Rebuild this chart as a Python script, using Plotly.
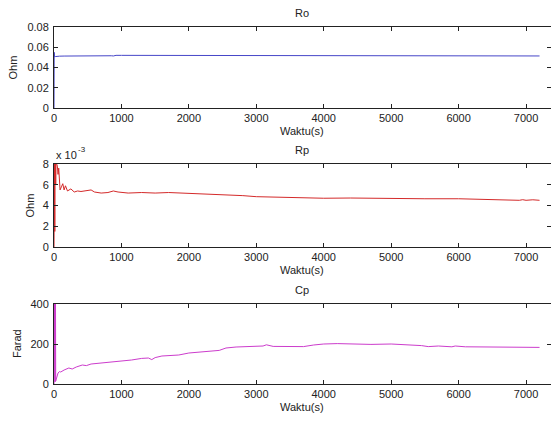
import plotly.graph_objects as go

# ---------------- data ----------------
ro_t = [0, 3, 6, 10, 20, 40, 80, 150, 300, 500, 600, 800, 850, 880, 920, 1000, 1500,
        1850, 1880, 1920, 1960, 2000, 2500, 3000, 4000, 5000, 6000, 7000, 7200]
ro_v = [0.0, 0.055, 0.050, 0.0505, 0.0508, 0.051, 0.0512, 0.0513, 0.0515, 0.0517, 0.052,
        0.052, 0.0516, 0.0514, 0.052, 0.052, 0.052, 0.052, 0.0515, 0.052, 0.0514, 0.0515,
        0.0514, 0.0514, 0.0514, 0.0514, 0.0514, 0.0514, 0.0514]

rp_t = [0, 2, 4, 6, 8, 10, 12, 14, 16, 18, 20, 22, 25, 30, 35, 40, 50, 60, 70, 80, 90,
        110, 130, 150, 170, 200, 250, 300, 350, 400, 500, 550, 600, 700, 800, 880, 950,
        1100, 1300, 1500, 1700, 1900, 2300, 2600, 2800, 3000, 3300, 3700, 4000, 4400,
        4800, 4900, 5100, 5500, 6000, 6400, 6500, 6900, 6950, 7000, 7100, 7200]
rp_v = [0.0, 9.0, 0.3, 9.0, 0.8, 9.0, 1.5, 9.0, 2.0, 8.5, 3.0, 8.8, 6.0, 8.5, 7.2, 8.0,
        7.8, 7.0, 7.6, 6.8, 5.5, 5.8, 6.1, 5.5, 5.9, 5.4, 5.6, 5.3, 5.4, 5.35, 5.45, 5.5,
        5.3, 5.2, 5.25, 5.4, 5.3, 5.2, 5.25, 5.2, 5.25, 5.2, 5.1, 5.0, 4.95, 4.85, 4.8,
        4.75, 4.7, 4.72, 4.68, 4.74, 4.7, 4.65, 4.65, 4.6, 4.52, 4.5, 4.56, 4.5, 4.55, 4.5]

cp_t = [0, 2, 4, 6, 8, 10, 12, 14, 16, 18, 20, 22, 25, 30, 45, 60, 80, 100, 150, 220,
        270, 330, 420, 480, 550, 700, 850, 1000, 1150, 1300, 1400, 1450, 1500, 1600,
        1850, 2000, 2200, 2450, 2550, 2700, 3100, 3150, 3250, 3700, 3850, 4000, 4200,
        4500, 4700, 5000, 5200, 5450, 5550, 5700, 5900, 5950, 6100, 6700, 6800, 7200]
cp_v = [0, 500, 10, 500, 20, 500, 30, 500, 10, 500, 20, 450, 15, 20, 40, 55, 62, 60, 70,
        80, 75, 85, 95, 92, 100, 105, 110, 112, 120, 128, 130, 122, 132, 140, 145, 155,
        160, 168, 180, 185, 190, 196, 188, 187, 195, 200, 202, 200, 198, 200, 198, 192,
        187, 190, 186, 190, 186, 186, 183, 183]

titles = ["Ro", "Rp", "Cp"]
ylabels = ["Ohm", "Ohm", "Farad"]
xticks = [0, 1000, 2000, 3000, 4000, 5000, 6000, 7000]

# ---------------- figure ----------------
W, H = 551, 421
L = 54
FONT = "Liberation Sans, Arial, sans-serif"
TXT = "#222"


def ydom(top_px, bot_px):
    return [1 - bot_px / H, 1 - top_px / H]


doms = [ydom(27, 108), ydom(164, 247), ydom(304, 384)]
colors = ["#4646c8", "#d42a2a", "#cc3ccc"]
series = [(ro_t, ro_v), (rp_t, rp_v), (cp_t, cp_v)]
yranges = [[0, 0.08], [0, 8], [0, 400]]
yticks = [[0, 0.02, 0.04, 0.06, 0.08], [0, 2, 4, 6, 8], [0, 200, 400]]
ytext = [["0", "0.02", "0.04", "0.06", "0.08"], ["0", "2", "4", "6", "8"], ["0", "200", "400"]]
ylabel_x = [13, 30, 17]


def px2x(px):
    return (px - L) / (W - L)


def px2y(py):
    return 1 - py / H


fig = go.Figure()
layout = dict(
    width=W, height=H,
    margin=dict(l=L, r=0, t=0, b=0),
    paper_bgcolor="white", plot_bgcolor="white",
    showlegend=False,
    font=dict(family=FONT, size=11, color=TXT),
)
annotations = []
for i, ((t, v), col) in enumerate(zip(series, colors)):
    n = "" if i == 0 else str(i + 1)
    fig.add_trace(go.Scatter(x=t, y=v, mode="lines", line=dict(color=col, width=1),
                             xaxis="x" + n, yaxis="y" + n))
    axcommon = dict(showgrid=False, zeroline=False, showline=True, linecolor=TXT,
                    linewidth=1, mirror="ticks", ticks="inside", ticklen=4,
                    tickcolor=TXT, tickfont=dict(family=FONT, size=11, color=TXT),
                    automargin=False)
    layout["xaxis" + n] = dict(axcommon, domain=[0, 1], range=[0, 7370],
                               tickvals=xticks, ticktext=[str(x) for x in xticks],
                               anchor="y" + n)
    layout["yaxis" + n] = dict(axcommon, domain=doms[i], range=yranges[i],
                               tickvals=yticks[i], ticktext=ytext[i], anchor="x" + n,
                               ticklabelstandoff=2)
    top_px = (1 - doms[i][1]) * H
    bot_px = (1 - doms[i][0]) * H
    mid = (bot_px + top_px) / 2
    f = dict(family=FONT, size=11, color=TXT)
    annotations.append(dict(text=titles[i], x=px2x(302), y=px2y(top_px - 14), xref="paper",
                            yref="paper", xanchor="center", yanchor="middle",
                            showarrow=False, font=f))
    annotations.append(dict(text="Waktu(s)", x=px2x(302), y=px2y(bot_px + 23), xref="paper",
                            yref="paper", xanchor="center", yanchor="middle",
                            showarrow=False, font=f))
    annotations.append(dict(text=ylabels[i], x=px2x(ylabel_x[i]), y=px2y(mid), xref="paper",
                            yref="paper", xanchor="center", yanchor="middle", textangle=-90,
                            showarrow=False, font=f))

# exponent label for the Rp axis
annotations.append(dict(text="x 10", x=px2x(54), y=px2y(155), xref="paper", yref="paper",
                        xanchor="left", yanchor="middle", showarrow=False,
                        font=dict(family=FONT, size=11, color=TXT)))
annotations.append(dict(text="-3", x=px2x(76), y=px2y(149), xref="paper", yref="paper",
                        xanchor="left", yanchor="middle", showarrow=False,
                        font=dict(family=FONT, size=8, color=TXT)))
layout["annotations"] = annotations
fig.update_layout(**layout)
fig.write_html("out.html")
